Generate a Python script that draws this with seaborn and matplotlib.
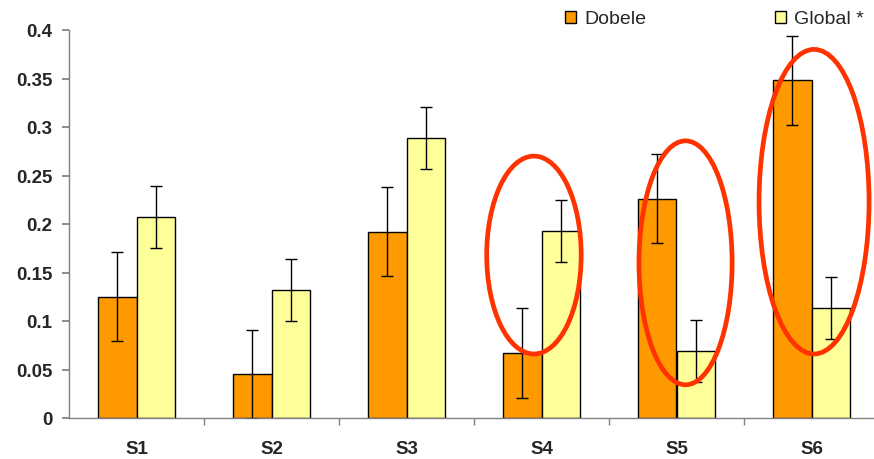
import matplotlib
matplotlib.use("Agg")
import matplotlib.pyplot as plt
from matplotlib.patches import Ellipse, Patch
from matplotlib.ticker import FixedLocator
import seaborn as sns
import pandas as pd

categories = ["S1", "S2", "S3", "S4", "S5", "S6"]
series = ["Dobele", "Global *"]
dobele = [0.125, 0.045, 0.192, 0.067, 0.226, 0.348]
global_vals = [0.207, 0.132, 0.289, 0.193, 0.069, 0.113]
dobele_err = [0.046, 0.046, 0.046, 0.046, 0.046, 0.046]
global_err = [0.032, 0.032, 0.032, 0.032, 0.032, 0.032]
y_ticks = [0, 0.05, 0.1, 0.15, 0.2, 0.25, 0.3, 0.35, 0.4]
y_tick_labels = ["0", "0.05", "0.1", "0.15", "0.2", "0.25", "0.3", "0.35", "0.4"]
# highlighted groups: (category index, offset, y center, width, height)
highlight_idx = [3, 4, 5]
highlight_dx = [-0.056, 0.067, 0.019]
highlight_y = [0.168, 0.160, 0.223]
highlight_w = [0.70, 0.69, 0.815]
highlight_h = [0.204, 0.2515, 0.314]

sns.set_theme(style="white")
plt.rcParams["font.family"] = ["Liberation Sans", "DejaVu Sans"]

df = pd.DataFrame({
    "cat": categories * 2,
    "series": [series[0]] * 6 + [series[1]] * 6,
    "val": dobele + global_vals,
})

fig = plt.figure(figsize=(8.74, 4.6), dpi=100)
ax = fig.add_axes([69 / 874, 41 / 460, 805 / 874, 388 / 460])

colors = ["#FF9900", "#FFFF99"]
sns.barplot(data=df, x="cat", y="val", hue="series", order=categories,
            hue_order=series, palette=colors, width=0.565, errorbar=None,
            edgecolor="black", linewidth=1.0, ax=ax, legend=False, saturation=1)

for cont, errs in zip(ax.containers, [dobele_err, global_err]):
    xs = [p.get_x() + p.get_width() / 2 for p in cont.patches]
    ys = [p.get_height() for p in cont.patches]
    ax.errorbar(xs, ys, yerr=errs, fmt="none", ecolor="black",
                elinewidth=1.0, capsize=4.5, capthick=1.0, zorder=5)

for i, dx, yc, w, h in zip(highlight_idx, highlight_dx, highlight_y, highlight_w, highlight_h):
    ax.add_patch(Ellipse((i + dx, yc), w, h, fill=False, edgecolor="#FF3300",
                         linewidth=3.4, zorder=6, clip_on=False))

ax.set_xlim(-0.5, 805 / 135 - 0.5)
ax.set_ylim(0, 0.4)
ax.set_yticks(y_ticks)
ax.set_yticklabels(y_tick_labels, fontsize=13.5, fontweight="bold")
ax.set_xticks(range(len(categories)))
ax.set_xticklabels(categories, fontsize=13.5, fontweight="bold")
ax.xaxis.set_minor_locator(FixedLocator([i + 0.5 for i in range(len(categories))]))
ax.tick_params(axis="x", which="major", length=0, pad=16)
ax.tick_params(axis="x", which="minor", length=5, color="#808080", direction="out", bottom=True)
ax.tick_params(axis="y", which="major", length=5, color="#808080", direction="out", left=True, pad=7)
ax.set_xlabel("")
ax.set_ylabel("")
for s in ["top", "right"]:
    ax.spines[s].set_visible(False)
for s in ["left", "bottom"]:
    ax.spines[s].set_color("#808080")
    ax.spines[s].set_linewidth(1.0)

handles = [Patch(facecolor=c, edgecolor="black", linewidth=1.0) for c in colors]
fig.legend(handles, series, loc="center left", bbox_to_anchor=(565 / 874, 1 - 20 / 460),
           ncol=2, frameon=False, fontsize=14, handlelength=0.57, handleheight=0.57,
           handletextpad=0.42, columnspacing=6.6, borderaxespad=0, borderpad=0)

fig.savefig("out.png", dpi=100)
